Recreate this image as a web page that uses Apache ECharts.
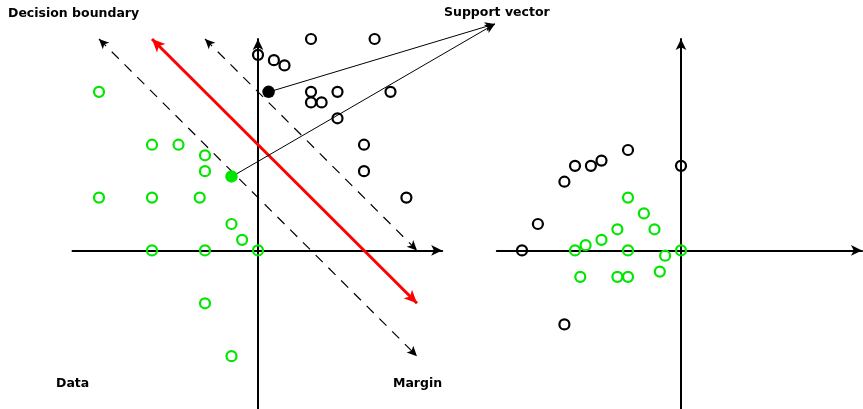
<!DOCTYPE html>
<html>
<head>
<meta charset="utf-8">
<script src="https://cdn.jsdelivr.net/npm/echarts@6/dist/echarts.min.js"></script>
<style>
  html, body { margin: 0; padding: 0; background: #fff; }
  #chart { width: 863px; height: 409px; }
</style>
</head>
<body>
<div id="chart"></div>
<script>
// left panel: original data space
const leftGreen = [[-6, 6], [-4, 4], [-3, 4], [-2, 3.6], [-2, 3], [-6, 2], [-4, 2], [-2.2, 2],
  [-1, 1], [-0.6, 0.4], [-4, 0], [-2, 0], [0, 0], [-2, -2], [-1, -4]]
const leftBlack = [[0, 7.4], [0.6, 7.2], [1, 7], [2, 8], [4.4, 8], [2, 6], [2, 5.6], [2.4, 5.6],
  [3, 6], [5, 6], [3, 5], [4, 4], [4, 3], [5.6, 2]]
const greenSupport = [[-1, 2.8]]
const blackSupport = [[0.4, 6]]

// decision boundary and margins (x + y = 4, 6, 2)
const boundaryLine = [[-4, 8], [6, -2]]
const marginUpper = [[-2, 8], [6, 0]]
const marginLower = [[-6, 8], [6, -4]]
// where the "Support vector" arrows meet
const supportTip = [8.94, 8.57]

// right panel: transformed space
const rightBlack = [[-6, 0], [-5.4, 1], [-4.4, 2.6], [-4, 3.2], [-3.4, 3.2], [-3, 3.4], [-2, 3.8],
  [0, 3.2], [-4.4, -2.8]]
const rightGreen = [[-2, 2], [-1.4, 1.4], [-1, 0.8], [-2.4, 0.8], [-3, 0.4], [-3.6, 0.2], [-4, 0],
  [-2, 0], [0, 0], [-0.6, -0.2], [-0.8, -0.8], [-3.8, -1], [-2.4, -1], [-2, -1]]

// layout: both panels share one pixel scale
const W = 863, H = 409
const U = 26.5
const leftOrigin = [258, 251]
const rightOrigin = [681, 251]
const leftX = [-7, 6.95], rightX = [-6.95, 6.83], panelY = [-6, 8]

const GREEN = '#00e600'
const FONT = '"DejaVu Sans"'

const chart = echarts.init(document.getElementById('chart'))

const gridFor = (origin, xr) => ({
  left: origin[0] + xr[0] * U,
  top: origin[1] - panelY[1] * U,
  width: (xr[1] - xr[0]) * U,
  height: (panelY[1] - panelY[0]) * U
})

const visAxis = (idx, range) => ({
  type: 'value', gridIndex: idx, min: range[0], max: range[1],
  axisLine: {
    show: true, onZero: true,
    symbol: ['none', 'arrow'], symbolSize: [8, 11],
    lineStyle: { color: '#000', width: 2 }
  },
  axisTick: { show: false }, axisLabel: { show: false }, splitLine: { show: false }
})

const hiddenAxis = (idx, range) => ({
  type: 'value', gridIndex: idx, min: range[0], max: range[1], show: false
})

const hollow = (name, data, color, xi) => ({
  name, type: 'scatter', xAxisIndex: xi, yAxisIndex: xi, data,
  symbol: 'circle', symbolSize: 10, silent: true, z: 5,
  itemStyle: { color: 'rgba(0,0,0,0)', borderColor: color, borderWidth: 2.2, opacity: 1 }
})

const filled = (name, data, color) => ({
  name, type: 'scatter', xAxisIndex: 0, yAxisIndex: 0, data,
  symbol: 'circle', symbolSize: 12.5, silent: true, z: 6,
  itemStyle: { color, opacity: 1 }
})

const segment = (pts) => [{ coord: pts[0] }, { coord: pts[1] }]

const label = (text, left, top) => ({
  type: 'text', left, top,
  style: { text, font: `bold 12.5px ${FONT}`, fill: '#000' }
})

const option = {
  animation: false,
  grid: [
    gridFor(leftOrigin, leftX),
    gridFor(rightOrigin, rightX),
    { left: 0, top: 0, width: W, height: H }
  ],
  xAxis: [
    visAxis(0, leftX),
    visAxis(1, rightX),
    hiddenAxis(2, [-leftOrigin[0] / U, (W - leftOrigin[0]) / U])
  ],
  yAxis: [
    visAxis(0, panelY),
    visAxis(1, panelY),
    hiddenAxis(2, [-(H - leftOrigin[1]) / U, leftOrigin[1] / U])
  ],
  graphic: [
    label('Decision boundary', 8, 7),
    label('Support vector', 444, 6),
    label('Data', 56, 377),
    label('Margin', 393, 377)
  ],
  series: [
    {
      type: 'scatter', xAxisIndex: 0, yAxisIndex: 0, data: [], silent: true,
      markLine: {
        silent: true, animation: false,
        symbol: ['arrow', 'arrow'], symbolSize: [7, 10],
        label: { show: false },
        lineStyle: { color: '#000', width: 1.2, type: [10, 8] },
        data: [segment(marginUpper), segment(marginLower)]
      }
    },
    {
      type: 'scatter', xAxisIndex: 0, yAxisIndex: 0, data: [], silent: true,
      markLine: {
        silent: true, animation: false,
        symbol: ['arrow', 'arrow'], symbolSize: [9, 13],
        label: { show: false },
        lineStyle: { color: '#ff0000', width: 3, type: 'solid' },
        data: [segment(boundaryLine)]
      }
    },
    {
      type: 'scatter', xAxisIndex: 2, yAxisIndex: 2, data: [], silent: true,
      markLine: {
        silent: true, animation: false,
        symbol: ['none', 'arrow'], symbolSize: [7, 10],
        label: { show: false },
        lineStyle: { color: '#000', width: 1, type: 'solid' },
        data: [segment([blackSupport[0], supportTip]), segment([greenSupport[0], supportTip])]
      }
    },
    hollow('green', leftGreen, GREEN, 0),
    hollow('black', leftBlack, '#000', 0),
    filled('green support', greenSupport, GREEN),
    filled('black support', blackSupport, '#000'),
    hollow('green mapped', rightGreen, GREEN, 1),
    hollow('black mapped', rightBlack, '#000', 1)
  ]
}

chart.setOption(option)
</script>
</body>
</html>
